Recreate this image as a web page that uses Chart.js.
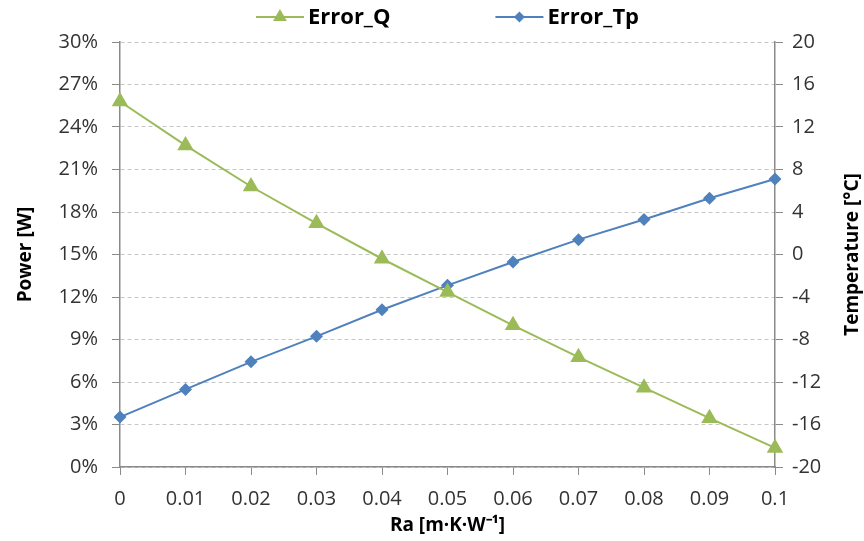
<!DOCTYPE html>
<html>
<head>
<meta charset="utf-8">
<script src="https://cdn.jsdelivr.net/npm/chart.js@4/dist/chart.umd.min.js"></script>
<style>
  html, body { margin: 0; padding: 0; background: #ffffff; }
  #wrap { width: 864px; height: 541px; }
</style>
</head>
<body>
<div id="wrap"><canvas id="c" width="864" height="541"></canvas></div>
<script>
// Thermal resistance Ra values along the x axis
const raLabels = ['0', '0.01', '0.02', '0.03', '0.04', '0.05', '0.06', '0.07', '0.08', '0.09', '0.1'];
// Relative power error (%), left axis
const errorQ = [25.8, 22.7, 19.8, 17.2, 14.7, 12.35, 10.0, 7.75, 5.6, 3.45, 1.35];
// Temperature error (°C), right axis
const errorTp = [-15.3, -12.7, -10.1, -7.7, -5.2, -2.9, -0.7, 1.4, 3.3, 5.3, 7.1];

const GREEN = '#9BBB59';
const BLUE = '#4F81BD';
const TEXT = '#333333';
const AXIS = '#8a8a8a';
const GRID = '#c6c6c6';

Chart.defaults.font.family = '"Open Sans", "Liberation Sans", sans-serif';
Chart.defaults.color = TEXT;

// Legend with a short line through each marker, plus the right-hand axis title
const decorPlugin = {
  id: 'decor',
  afterDraw(chart) {
    const ctx = chart.ctx;
    const area = chart.chartArea;
    ctx.save();
    ctx.font = 'bold 22px "Open Sans", "Liberation Sans", sans-serif';
    ctx.textBaseline = 'middle';
    ctx.textAlign = 'left';
    const symW = 48, symGap = 4, itemGap = 105;
    const items = chart.data.datasets.map(ds => ({
      ds, w: symW + symGap + ctx.measureText(ds.label).width
    }));
    const total = items.reduce((s, it) => s + it.w, 0) + itemGap * (items.length - 1);
    let x = (area.left + area.right) / 2 - total / 2;
    const y = 17;
    items.forEach(it => {
      const ds = it.ds;
      ctx.strokeStyle = ds.borderColor;
      ctx.lineWidth = 2;
      ctx.beginPath();
      ctx.moveTo(x, y);
      ctx.lineTo(x + symW, y);
      ctx.stroke();
      ctx.fillStyle = ds.pointBackgroundColor;
      Chart.helpers.drawPoint(ctx, {
        pointStyle: ds.pointStyle,
        rotation: 0,
        radius: ds.legendRadius,
        borderWidth: 0
      }, x + symW / 2, y);
      ctx.fillStyle = '#000000';
      ctx.fillText(ds.label, x + symW + symGap, y + 1);
      x += it.w + itemGap;
    });

    // right axis title, reading bottom-to-top
    ctx.font = 'bold 19px "Open Sans", "Liberation Sans", sans-serif';
    ctx.translate(853, (area.top + area.bottom) / 2);
    ctx.rotate(-Math.PI / 2);
    ctx.textAlign = 'center';
    ctx.textBaseline = 'middle';
    ctx.fillStyle = '#000000';
    ctx.fillText('Temperature [°C]', 0, 0);
    ctx.restore();
  }
};

new Chart(document.getElementById('c'), {
  type: 'line',
  data: {
    labels: raLabels,
    datasets: [
      {
        label: 'Error_Q',
        data: errorQ,
        yAxisID: 'y',
        borderColor: GREEN,
        backgroundColor: GREEN,
        pointBackgroundColor: GREEN,
        pointBorderWidth: 0,
        borderWidth: 2,
        pointStyle: 'triangle',
        pointRadius: 9.5,
        legendRadius: 8,
        tension: 0
      },
      {
        label: 'Error_Tp',
        data: errorTp,
        yAxisID: 'y1',
        borderColor: BLUE,
        backgroundColor: BLUE,
        pointBackgroundColor: BLUE,
        pointBorderWidth: 0,
        borderWidth: 2,
        pointStyle: 'rectRot',
        pointRadius: 6.5,
        legendRadius: 5.5,
        tension: 0
      }
    ]
  },
  options: {
    responsive: false,
    animation: false,
    layout: { padding: { top: 42, left: 0, right: 0, bottom: 0 } },
    plugins: {
      legend: { display: false },
      tooltip: { enabled: false }
    },
    scales: {
      x: {
        type: 'category',
        offset: false,
        grid: { drawOnChartArea: false, tickLength: 8, tickColor: AXIS, tickWidth: 1 },
        border: { color: AXIS, width: 1.5 },
        ticks: { font: { size: 20 }, padding: 12, maxRotation: 0, autoSkip: false },
        title: {
          display: true,
          text: 'Ra [m·K·W⁻¹]',
          color: '#000000',
          font: { size: 19, weight: 'bold' },
          padding: { top: 0, bottom: 4 }
        },
        afterFit(s) { s.height = 74; }
      },
      y: {
        position: 'left',
        min: 0,
        max: 30,
        grid: { color: GRID, tickColor: AXIS, tickLength: 8, tickBorderDash: [], lineWidth: 1 },
        border: { color: AXIS, width: 1.5, dash: [4, 3] },
        ticks: {
          stepSize: 3,
          font: { size: 20 },
          padding: 14,
          callback: v => v + '%'
        },
        title: {
          display: true,
          text: 'Power [W]',
          color: '#000000',
          font: { size: 19, weight: 'bold' },
          padding: { top: 14, bottom: 0 }
        },
        afterFit(s) { s.width = 120; }
      },
      y1: {
        position: 'right',
        min: -20,
        max: 20,
        grid: { drawOnChartArea: false, tickColor: AXIS, tickLength: 8 },
        border: { color: AXIS, width: 1.5 },
        ticks: { stepSize: 4, font: { size: 20 }, padding: 9 },
        afterFit(s) { s.width = 89; }
      }
    }
  },
  plugins: [decorPlugin]
});
</script>
</body>
</html>
